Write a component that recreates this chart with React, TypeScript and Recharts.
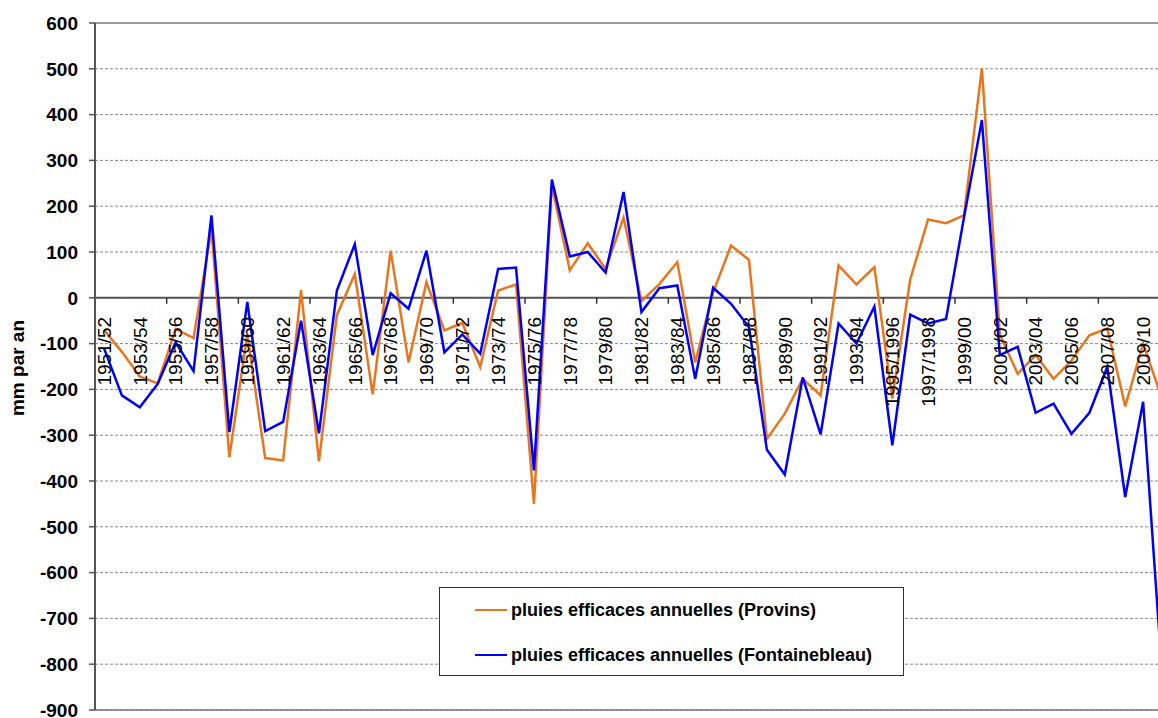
import React from "react";
import { ComposedChart, Line, Scatter, XAxis, YAxis, CartesianGrid, ReferenceLine } from "recharts";

const seasons = [
  "1951/52", "1952/53", "1953/54", "1954/55", "1955/56", "1956/57", "1957/58", "1958/59", "1959/60", "1960/61",
  "1961/62", "1962/63", "1963/64", "1964/65", "1965/66", "1966/67", "1967/68", "1968/69", "1969/70", "1970/71",
  "1971/72", "1972/73", "1973/74", "1974/75", "1975/76", "1976/77", "1977/78", "1978/79", "1979/80", "1980/81",
  "1981/82", "1982/83", "1983/84", "1984/85", "1985/86", "1986/87", "1987/88", "1988/89", "1989/90", "1990/91",
  "1991/92", "1992/93", "1993/94", "1994/95", "1995/1996", "1996/1997", "1997/1998", "1998/99", "1999/00", "2000/01",
  "2001/02", "2002/03", "2003/04", "2004/05", "2005/06", "2006/07", "2007/08", "2008/09", "2009/10", "2010/11",
];

const provins = [
  -70, -118, -172, -187, -68, -88, 150, -348, -80, -350,
  -355, 17, -357, -38, 52, -211, 103, -141, 34, -71,
  -55, -151, 16, 29, -450, 245, 60, 119, 63, 175,
  -7, 30, 78, -141, 12, 114, 83, -308, -253, -177,
  -213, 71, 29, 67, -220, 40, 171, 163, 180, 501,
  -80, -166, -125, -177, -137, -82, -67, -237, -100, -214,
];

const fontainebleau = [
  -110, -213, -239, -188, -97, -160, 180, -293, -9, -291,
  -271, -50, -296, 16, 117, -125, 10, -24, 103, -119,
  -80, -122, 63, 66, -377, 258, 90, 100, 55, 231,
  -31, 21, 27, -177, 22, -13, -64, -332, -386, -174,
  -298, -56, -100, -19, -322, -37, -56, -46, 175, 388,
  -125, -107, -251, -231, -297, -251, -151, -435, -227, -790,
];

const seriesNames = [
  "pluies efficaces annuelles (Provins)",
  "pluies efficaces annuelles (Fontainebleau)",
];
const seriesColors = ["#E8761F", "#0000FF"];

const yTicks = [-900, -800, -700, -600, -500, -400, -300, -200, -100, 0, 100, 200, 300, 400, 500, 600];
const xTicks = [0, 4, 8, 12, 16, 20, 24, 28, 32, 36, 40, 44, 48, 52, 56, 60];

const FONT = "'Liberation Sans', Arial, sans-serif";

const data = seasons.map((s, i) => ({
  x: i + 0.5,
  season: s,
  label: i % 2 === 0 ? s : "",
  zero: 0,
  provins: provins[i],
  fontainebleau: fontainebleau[i],
}));

// category labels sit under the zero line, like the Excel original
const SeasonLabel = (props: any) => {
  const { cx, cy, payload } = props;
  if (!payload || !payload.label) return <g />;
  const y = cy + 19;
  return (
    <text
      x={cx}
      y={y}
      transform={`rotate(-90 ${cx} ${y})`}
      textAnchor="end"
      dy="0.36em"
      fontSize={19}
      fontFamily={FONT}
      fill="#000"
    >
      {payload.label}
    </text>
  );
};

const AxisTitle = () => (
  <text
    x={18}
    y={368}
    transform="rotate(-90 18 368)"
    textAnchor="middle"
    dy="0.3em"
    fontSize={19}
    fontWeight="bold"
    fontFamily={FONT}
    fill="#000"
  >
    mm par an
  </text>
);

export default function App() {
  return (
    <div
      style={{
        position: "fixed",
        left: 0,
        top: 0,
        width: 1158,
        height: 718,
        overflow: "hidden",
        background: "#fff",
      }}
    >
      <ComposedChart width={1175} height={718} data={data} margin={{ top: 23, right: 5, left: 15, bottom: 8 }}>
        <CartesianGrid horizontal vertical={false} stroke="#8a8a8a" strokeDasharray="3 2" />
        <CartesianGrid horizontal={false} vertical stroke="#c6c6c6" strokeWidth={1.3} />
        <XAxis
          type="number"
          dataKey="x"
          domain={[0, 60]}
          ticks={xTicks}
          height={0}
          tick={false}
          axisLine={false}
          tickLine={false}
        />
        <YAxis
          type="number"
          domain={[-900, 600]}
          ticks={yTicks}
          interval={0}
          width={80}
          tickSize={6}
          tickMargin={11}
          axisLine={{ stroke: "#555", strokeWidth: 2 }}
          tickLine={{ stroke: "#555", strokeWidth: 1.5 }}
          tick={{ fontSize: 19, fontWeight: "bold", fontFamily: FONT, fill: "#000" }}
          label={AxisTitle}
        />
        <ReferenceLine y={600} stroke="#9a9a9a" strokeWidth={2} />
        <ReferenceLine y={-900} stroke="#777" strokeWidth={1.5} />
        <ReferenceLine y={0} stroke="#555" strokeWidth={2} />
        {xTicks.slice(1, -1).map((t) => (
          <ReferenceLine
            key={t}
            segment={[
              { x: t, y: 0 },
              { x: t, y: -13 },
            ]}
            stroke="#333"
            strokeWidth={1.5}
          />
        ))}
        <Scatter dataKey="zero" shape={SeasonLabel} isAnimationActive={false} legendType="none" />
        <Line
          type="linear"
          dataKey="provins"
          name={seriesNames[0]}
          stroke={seriesColors[0]}
          strokeWidth={2.5}
          dot={false}
          activeDot={false}
          isAnimationActive={false}
        />
        <Line
          type="linear"
          dataKey="fontainebleau"
          name={seriesNames[1]}
          stroke={seriesColors[1]}
          strokeWidth={2.5}
          dot={false}
          activeDot={false}
          isAnimationActive={false}
        />
      </ComposedChart>
      <div
        style={{
          position: "absolute",
          left: 439,
          top: 587,
          width: 463,
          height: 87,
          border: "1px solid #333",
          background: "#fff",
          fontFamily: FONT,
          fontWeight: "bold",
          fontSize: 18,
        }}
      >
        {seriesNames.map((name, i) => (
          <div
            key={name}
            style={{
              position: "absolute",
              left: 35,
              top: 10 + i * 45,
              height: 24,
              display: "flex",
              alignItems: "center",
              whiteSpace: "nowrap",
            }}
          >
            <span style={{ display: "inline-block", width: 32, height: 2.5, background: seriesColors[i], marginRight: 4 }} />
            <span>{name}</span>
          </div>
        ))}
      </div>
    </div>
  );
}
